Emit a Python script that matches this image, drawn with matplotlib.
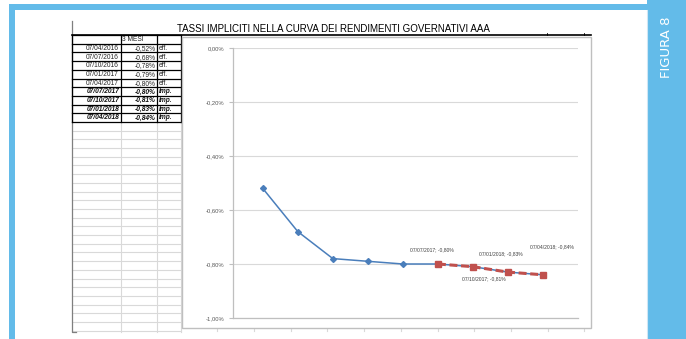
import matplotlib.pyplot as plt
from matplotlib.patches import Rectangle

plt.rcParams['font.family'] = ['Liberation Sans', 'DejaVu Sans']

# Quarterly 3-month AAA yields (eff. = observed, imp. = implied)
dates = ['07/04/2016', '07/07/2016', '07/10/2016', '07/01/2017', '07/04/2017',
         '07/07/2017', '07/10/2017', '07/01/2018', '07/04/2018']
rates = [-0.52, -0.68, -0.78, -0.79, -0.80, -0.80, -0.81, -0.83, -0.84]
kinds = ['eff.', 'eff.', 'eff.', 'eff.', 'eff.', 'imp.', 'imp.', 'imp.', 'imp.']
yticks = [0.0, -0.2, -0.4, -0.6, -0.8, -1.0]
title = 'TASSI IMPLICITI NELLA CURVA DEI RENDIMENTI GOVERNATIVI AAA'
header = '3 MESI'
fig_label = 'FIGURA 8'


def pct(v):
    return f'{v:.2f}%'.replace('.', ',')


W, H = 686, 339
fig = plt.figure(figsize=(W / 100, H / 100), dpi=100)

# background layer in pixel coordinates
bg = fig.add_axes([0, 0, 1, 1])
bg.set_xlim(0, W)
bg.set_ylim(H, 0)
bg.axis('off')

blue = '#63bbe9'
bg.add_patch(Rectangle((9.3, 4), 640, 6, color=blue, lw=0))
bg.add_patch(Rectangle((9.3, 4), 5.7, H, color=blue, lw=0))
bg.add_patch(Rectangle((647, 0), W - 647, H, color=blue, lw=0))
bg.plot([646.5, 646.5], [10, H], color='#cfe6f4', lw=0.8)
bg.text(667, 47, fig_label, rotation=90, color='white', fontsize=9.5,
        ha='center', va='center', family=['Liberation Sans Narrow', 'DejaVu Sans'])

# spreadsheet grid
row_h = 8.7
top = 35
cols = [72, 120.5, 157, 181]
n_rows = len(dates) + 1
table_bottom = top + row_h * n_rows
y = table_bottom + row_h
while y <= 333:
    bg.plot([72, 181], [y, y], color='#d9d9d9', lw=0.8, zorder=1)
    y += row_h
for cx in cols[1:]:
    bg.plot([cx, cx], [table_bottom, 332], color='#d9d9d9', lw=0.8, zorder=1)
for k in range(11):
    cx = 217.3 + 36.7 * k
    bg.plot([cx, cx], [328, 331], color='#d9d9d9', lw=0.8, zorder=1)
bg.plot([72, 72, 76], [21, 332, 332], color='#7f7f7f', lw=0.9, zorder=3)

# title row
bg.plot([72, 591], [top, top], color='black', lw=1.2, zorder=4)
for cx in (547, 584):
    bg.plot([cx, cx], [top - 2.5, top], color='black', lw=0.6, zorder=4)
bg.text(333, 28.5, title, fontsize=7, ha='center', va='center', color='black')

# data table
for k in range(n_rows + 1):
    yy = top + row_h * k
    bg.plot([72, 181], [yy, yy], color='black', lw=0.9, zorder=4)
for cx in cols:
    bg.plot([cx, cx], [top, table_bottom], color='black', lw=0.9, zorder=4)
bg.text(cols[1] + 1, top + row_h / 2 + 0.3, header, fontsize=4.8, va='center',
        color='#222222')
for i, (d, r, kd) in enumerate(zip(dates, rates, kinds)):
    yc = top + row_h * (i + 1.5) + 0.3
    style = dict(fontsize=4.8, va='center', color='#262626')
    if kd == 'imp.':
        style.update(fontweight='bold', fontstyle='italic', color='#111111')
    bg.text(cols[1] - 1.5, yc, d, ha='right', **style)
    bg.text(cols[2] - 1.5, yc, pct(r), ha='right', **style)
    bg.text(cols[2] + 1.5, yc, kd, ha='left', **style)

# chart frame
bg.add_patch(Rectangle((182, 37), 409, 291, facecolor='white',
                       edgecolor='#bfbfbf', lw=1.0, zorder=5))

# line chart
ax = fig.add_axes([233 / W, (H - 318) / H, 345 / W, 270 / H], zorder=6)
ax.patch.set_alpha(0)
x = list(range(len(rates)))
ax.plot(x, rates, color='#4a7ebb', lw=1.1, marker='D', ms=3, zorder=3)
ax.plot(x[5:], rates[5:], color='#c0504d', lw=2.2, ls=(0, (2.6, 1.2)),
        marker='s', ms=5, zorder=4)

ax.set_xlim(-0.85, 9.0)
ax.set_ylim(-1.0, 0.0)
ax.set_yticks(yticks)
ax.set_yticklabels([pct(v) for v in yticks])
ax.set_xticks([])
ax.grid(axis='y', color='#d9d9d9', lw=0.8)
ax.set_axisbelow(True)
for s in ('top', 'right'):
    ax.spines[s].set_visible(False)
for s in ('left', 'bottom'):
    ax.spines[s].set_color('#bfbfbf')
    ax.spines[s].set_linewidth(0.9)
ax.tick_params(axis='y', length=3, width=0.8, color='#bfbfbf',
               labelsize=4.2, labelcolor='#595959', pad=3)

# data labels for the implied points
offsets = {5: (-4, 10.3), 6: (7.8, -8.9), 7: (-4.8, 13), 8: (6.5, 20)}
for i, (dx, dy) in offsets.items():
    ax.annotate(f'{dates[i]}; {pct(rates[i])}', (x[i], rates[i]),
                xytext=(dx, dy), textcoords='offset points',
                ha='center', va='center', fontsize=3.6, color='#404040')

fig.savefig('out.png', dpi=100)
